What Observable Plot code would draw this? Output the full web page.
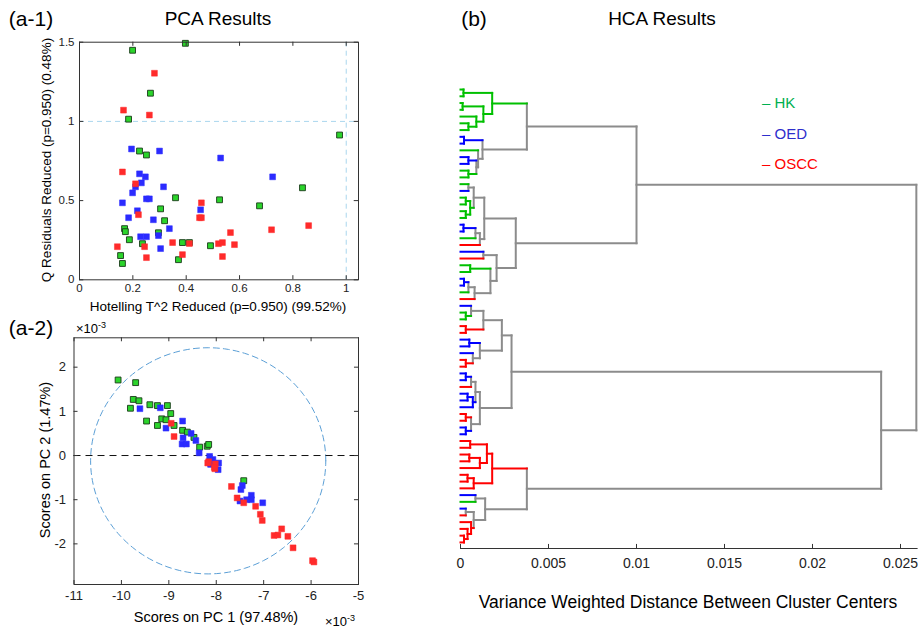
<!DOCTYPE html>
<html><head><meta charset="utf-8">
<script src="https://cdn.jsdelivr.net/npm/d3@7"></script>
<script src="https://cdn.jsdelivr.net/npm/@observablehq/plot@0.6"></script>
<style>
body{margin:0;background:#fff;font-family:"Liberation Sans",Arial,sans-serif;}
#wrap{position:relative;width:921px;height:629px;overflow:hidden;background:#fff}
.t{position:absolute;white-space:nowrap;color:#000;line-height:1;transform:translate(-50%,-50%)}
.l{position:absolute;white-space:nowrap;line-height:1;transform:translate(0,-50%)}
.p{position:absolute}
</style></head><body><div id="wrap"></div>
<script>
// ---------- panel (a-1): Hotelling T^2 reduced vs Q residuals reduced ----------
const hkT2   = [0.397,0.199,0.266,0.184,0.975,0.225,0.251,0.836,0.360,0.525,0.675,0.304,0.319,0.169,0.172,0.296,0.187,0.386,0.412,0.236,0.491,0.154,0.371,0.161];
const hkQ    = [1.493,1.449,1.178,1.014,0.914,0.813,0.788,0.581,0.518,0.505,0.467,0.448,0.373,0.323,0.304,0.297,0.253,0.235,0.235,0.228,0.215,0.153,0.127,0.103];
const oedT2  = [0.195,0.300,0.529,0.225,0.247,0.232,0.210,0.199,0.315,0.724,0.251,0.262,0.161,0.454,0.217,0.184,0.277,0.337,0.296,0.251,0.229,0.304];
const oedQ   = [0.826,0.813,0.769,0.669,0.650,0.612,0.587,0.549,0.587,0.650,0.511,0.511,0.486,0.442,0.436,0.392,0.379,0.323,0.279,0.272,0.272,0.197];
const osccT2 = [0.281,0.165,0.262,0.161,0.210,0.457,0.221,0.450,0.457,0.720,0.859,0.566,0.349,0.412,0.244,0.142,0.521,0.536,0.581,0.386,0.251,0.536];
const osccQ  = [1.304,1.071,1.040,0.681,0.606,0.486,0.411,0.392,0.392,0.316,0.342,0.298,0.235,0.229,0.209,0.209,0.228,0.235,0.222,0.159,0.140,0.147];
const a1XTicks = [0, 0.2, 0.4, 0.6, 0.8, 1];
const a1YTicks = [0, 0.5, 1, 1.5];
const a1Limits = [1, 1];   // T^2 and Q confidence limits (dashed lines)

// ---------- panel (a-2): scores on PC1 vs PC2 (x 10^-3) ----------
const hkPC1   = [-10.07,-9.70,-9.75,-9.63,-9.81,-9.40,-9.24,-9.03,-8.96,-9.47,-9.15,-9.06,-9.24,-8.89,-8.71,-8.61,-8.47,-8.35,-8.19,-8.16,-7.42];
const hkPC2   = [1.71,1.65,1.27,1.24,1.07,1.15,1.13,1.13,0.95,0.78,0.83,0.81,0.68,0.68,0.57,0.53,0.41,0.19,0.21,0.25,-0.57];
const oedPC1  = [-9.61,-9.18,-8.71,-9.06,-8.70,-8.53,-8.43,-8.72,-8.63,-8.36,-8.14,-8.07,-8.11,-7.95,-7.96,-8.12,-7.45,-7.48,-7.50,-7.26,-7.26,-7.36,-7.02];
const oedPC2  = [1.06,1.08,0.78,0.62,0.40,0.50,0.34,0.26,0.26,0.06,-0.02,-0.09,-0.19,-0.17,-0.32,-0.20,-0.68,-0.77,-1.03,-0.90,-1.00,-1.00,-1.07];
const osccPC1 = [-8.95,-8.89,-8.16,-8.02,-8.03,-8.18,-8.04,-7.68,-7.56,-7.42,-7.17,-7.07,-7.03,-6.78,-6.70,-6.62,-6.49,-6.38,-5.97,-5.94];
const osccPC2 = [0.73,0.43,-0.14,-0.19,-0.30,-0.17,-0.27,-0.70,-0.96,-1.07,-1.15,-1.33,-1.47,-1.81,-1.80,-1.66,-1.83,-2.09,-2.38,-2.41];
const a2XTicks = [-11, -10, -9, -8, -7, -6, -5];
const a2YTicks = [-2, -1, 0, 1, 2];
const ellipseCenter = [-8.17, -0.12];
const ellipseRadii = [2.48, 2.56];

// ---------- panel (b): HCA dendrogram, [merge height x 10^-3, left, right]; leaves = class ----------
const A1  = [1.8, [0.17,"G","G"], [1.3, [0.12,"G","G"], [0.9,"G",[0.45,"G","G"]]]];
const A2  = [1.25, [0.2,"B","B"], [1.0,"G",[0.9,[0.45,"B","B"],[0.45,"G","G"]]]];
const B1  = [1.35, [0.75,[0.45,"G","B"],[0.55,[0.3,"G","G"],[0.3,"G","G"]]], [1.1,[0.85,[0.17,"B","B"],"G"],"R"]];
const B2  = [2.05, [1.3,"B","R"], [1.7,[0.55,"G","G"],[0.8,[0.45,[0.2,"B","B"],"G"],"R"]]];
const C1a = [2.35, [1.3,[0.6,"B",[0.3,"G","G"]],[0.3,"R","R"]], [1.1,[0.5,"B","B"],[0.7,"B",[0.3,"R","R"]]]];
const C1b = [1.1, [0.85,[0.6,[0.3,"B","B"],"R"],[0.7,[0.4,"B","B"],"B"]], [0.6,[0.3,"R","R"],[0.3,"B","B"]]];
const RC  = [1.8, [1.5,[0.55,"R","R"],[1.1,[0.5,"R","R"],"R"]], [0.75,[0.4,"R","R"],"R"]];
const MC  = [1.4, [0.85,"B","G"], [0.75,[0.3,"B","R"],[0.6,"R",[0.4,"R",[0.2,"R","R"]]]]];
const upperCluster = [10.0, [3.77, A1, A2], [3.14, B1, B2]];
const lowerCluster = [23.9, [2.9, C1a, C1b], [3.77, RC, MC]];
const dendroRoot = [25.9, upperCluster, lowerCluster];
const bXTicks = [0, 0.005, 0.01, 0.015, 0.02, 0.025];

const classes = ["HK", "OED", "OSCC"];
const classCodes = ["G", "B", "R"];

// ---------- styles ----------
const FONT = "Liberation Sans, Arial, sans-serif";
const frameColor = "#333";
const fillCol = {G: "#2bd42b", B: "#2b2bff", R: "#ff2b2b"};
const lineCol = {G: "#00c000", B: "#0000ff", R: "#ff0000", M: "#8c8c8c"};
const legendCol = ["#00b050", "#2e2ecc", "#ff0000"];

const wrap = document.getElementById("wrap");
function place(el, left, top) { el.classList.add("p"); el.style.left = left + "px"; el.style.top = top + "px"; wrap.appendChild(el); }
function text(str, cx, cy, size, extra = "") {
  const d = document.createElement("div"); d.className = "t";
  d.style.left = cx + "px"; d.style.top = cy + "px"; d.style.fontSize = size + "px";
  if (extra) d.style.transform = "translate(-50%,-50%) " + extra;
  d.innerHTML = str; wrap.appendChild(d); return d;
}
function ltext(str, x, cy, size, color) {
  const d = document.createElement("div"); d.className = "l";
  d.style.left = x + "px"; d.style.top = cy + "px"; d.style.fontSize = size + "px"; d.style.color = color;
  d.innerHTML = str; wrap.appendChild(d); return d;
}
function boxTicks(xt, yt, xd, yd, lx, ly) {
  const o = {stroke: frameColor, strokeWidth: 1};
  return [
    Plot.ruleX(xt, {...o, y1: yd[0], y2: yd[0] + ly}),
    Plot.ruleX(xt, {...o, y1: yd[1], y2: yd[1] - ly}),
    Plot.ruleY(yt, {...o, x1: xd[0], x2: xd[0] + lx}),
    Plot.ruleY(yt, {...o, x1: xd[1], x2: xd[1] - lx})
  ];
}
function zipPts(xs, ys, c) { return xs.map((x, i) => ({x, y: ys[i], c})); }
function dots(data) {
  return classCodes.map(c => Plot.dot(data.filter(d => d.c === c), {
    x: "x", y: "y", symbol: "square", r: 3.3, fill: fillCol[c],
    stroke: c === "G" ? "#1a3a1a" : fillCol[c], strokeWidth: c === "G" ? 0.9 : 0.5
  }));
}

// ---------- (a-1) ----------
{
  const data = [...zipPts(hkT2, hkQ, "G"), ...zipPts(osccT2, osccQ, "R"), ...zipPts(oedT2, oedQ, "B")];
  const xd = [0, 1.046], yd = [0, 1.5];
  const svg = Plot.plot({
    width: 380, height: 300, marginLeft: 79, marginRight: 22, marginTop: 11.7, marginBottom: 50.7,
    style: {fontFamily: FONT, fontSize: "11px", color: "#222", background: "transparent"},
    x: {domain: xd}, y: {domain: yd},
    marks: [
      Plot.ruleY([a1Limits[1]], {stroke: "#a9d6ee", strokeDasharray: "5,4", strokeWidth: 1}),
      Plot.ruleX([a1Limits[0]], {stroke: "#a9d6ee", strokeDasharray: "5,4", strokeWidth: 1}),
      ...dots(data),
      Plot.frame({stroke: frameColor, strokeWidth: 1}),
      ...boxTicks(a1XTicks, a1YTicks, xd, yd, 0.016, 0.026),
      Plot.axisX(a1XTicks, {tickSize: 0, tickPadding: 4, tickFormat: d => String(d), label: null, fontSize: 11.5}),
      Plot.axisY(a1YTicks, {tickSize: 0, tickPadding: 5, tickFormat: d => String(d), label: null, fontSize: 11.5})
    ]
  });
  place(svg, 0, 30);
}

// ---------- (a-2) ----------
{
  const data = [...zipPts(hkPC1, hkPC2, "G"), ...zipPts(oedPC1, oedPC2, "B"), ...zipPts(osccPC1, osccPC2, "R")];
  const ell = d3.range(0, 361, 2).map(a => ({
    x: ellipseCenter[0] + ellipseRadii[0] * Math.cos(a * Math.PI / 180),
    y: ellipseCenter[1] + ellipseRadii[1] * Math.sin(a * Math.PI / 180)
  }));
  const xd = [-11, -5], yd = [-2.92, 2.665];
  const svg = Plot.plot({
    width: 380, height: 309, marginLeft: 73.5, marginRight: 22, marginTop: 17.3, marginBottom: 45,
    style: {fontFamily: FONT, fontSize: "13px", color: "#222", background: "transparent"},
    x: {domain: xd}, y: {domain: yd},
    marks: [
      Plot.line(ell, {x: "x", y: "y", stroke: "#5b9fd6", strokeWidth: 1, strokeDasharray: "6,4"}),
      Plot.ruleY([0], {stroke: "#111", strokeWidth: 1, strokeDasharray: "7,5"}),
      ...dots(data),
      Plot.frame({stroke: frameColor, strokeWidth: 1}),
      ...boxTicks(a2XTicks, a2YTicks, xd, yd, 0.085, 0.09),
      Plot.axisX(a2XTicks, {tickSize: 0, tickPadding: 6, tickFormat: d => String(d), label: null, fontSize: 13}),
      Plot.axisY(a2YTicks, {tickSize: 0, tickPadding: 8, tickFormat: d => String(d), label: null, fontSize: 13})
    ]
  });
  place(svg, 0, 320);
}

// ---------- (b) dendrogram ----------
{
  let leaf = 0; const segs = [];
  function lay(node) {
    if (typeof node === "string") return {y: leaf++, h: 0, c: node};
    const [h, l, r] = node;
    const a = lay(l), b = lay(r);
    const c = a.c === b.c ? a.c : "M";
    const x = h / 1000;
    segs.push({x1: a.h, x2: x, y1: a.y, y2: a.y, c: a.c});
    segs.push({x1: b.h, x2: x, y1: b.y, y2: b.y, c: b.c});
    segs.push({x1: x, x2: x, y1: a.y, y2: b.y, c});
    return {y: (a.y + b.y) / 2, h: x, c};
  }
  lay(dendroRoot);
  const yBottom = leaf - 1 + 0.9;
  const svg = Plot.plot({
    width: 481, height: 559, marginLeft: 20, marginRight: 3.4, marginTop: 5.5, marginBottom: 81,
    style: {fontFamily: FONT, fontSize: "13px", color: "#222", background: "transparent"},
    x: {domain: [0, 0.026]},
    y: {domain: [-2, yBottom], reverse: true, axis: null},
    color: {domain: ["G", "B", "R", "M"], range: [lineCol.G, lineCol.B, lineCol.R, lineCol.M]},
    marks: [
      Plot.link(segs.filter(d => d.c === "M"), {x1: "x1", y1: "y1", x2: "x2", y2: "y2", stroke: "c", strokeWidth: 2, strokeLinecap: "square"}),
      Plot.link(segs.filter(d => d.c !== "M"), {x1: "x1", y1: "y1", x2: "x2", y2: "y2", stroke: "c", strokeWidth: 2, strokeLinecap: "square"}),
      Plot.ruleY([yBottom], {x1: 0, x2: 0.026, stroke: frameColor, strokeWidth: 1}),
      Plot.ruleX(bXTicks, {y1: yBottom, y2: yBottom - 0.6, stroke: frameColor, strokeWidth: 1}),
      Plot.axisX(bXTicks, {tickSize: 0, tickPadding: 10, tickFormat: d => String(d), label: null, fontSize: 14})
    ]
  });
  place(svg, 440, 70);
}

// ---------- titles, labels, legend ----------
text("(a-1)", 31, 18, 21);
text("PCA Results", 218, 18, 19);
text("(b)", 474, 18, 21);
text("HCA Results", 662, 18, 19);
text("(a-2)", 31, 327, 21);
text("&times;10<sup style='font-size:9px;vertical-align:5px'>-3</sup>", 91, 328, 13);
text("&times;10<sup style='font-size:9px;vertical-align:5px'>-3</sup>", 340, 621, 13);
text("Hotelling T^2 Reduced (p=0.950) (99.52%)", 218, 307, 13.5);
text("Q Residuals Reduced (p=0.950) (0.48%)", 47, 160, 13.5, "rotate(-90deg)");
text("Scores on PC 1 (97.48%)", 216, 617, 14.5);
text("Scores on PC 2 (1.47%)", 45, 460, 14.5, "rotate(-90deg)");
text("Variance Weighted Distance Between Cluster Centers", 688, 603, 17.5);
classes.forEach((name, i) => ltext("&ndash; " + name, 762, 102 + i * 30.5, 15, legendCol[i]));
</script></body></html>
